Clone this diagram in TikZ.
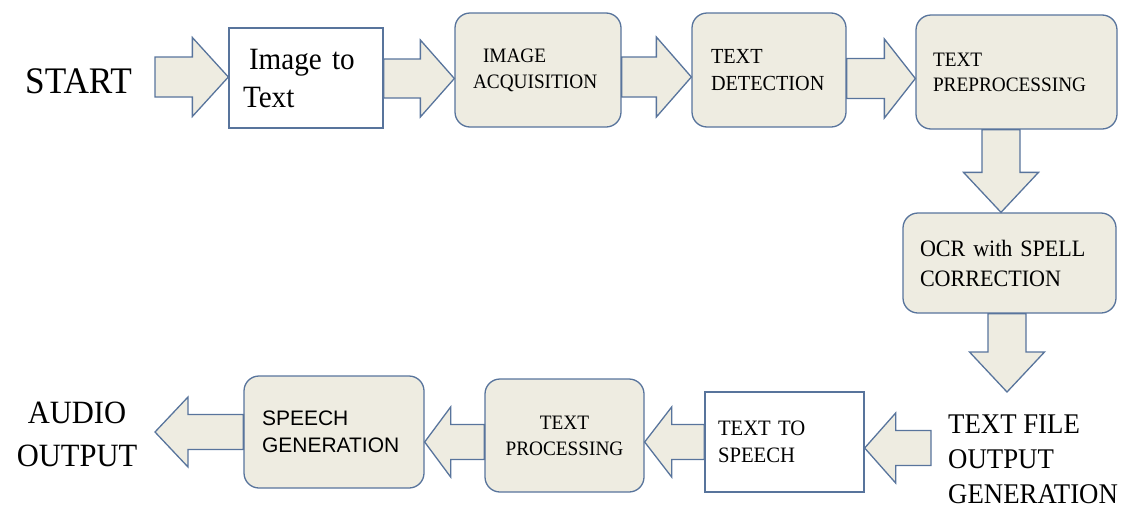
\documentclass[tikz,border=0pt]{standalone}
\usepackage{fontspec}
\setmainfont{Liberation Serif}[FakeStretch=0.94]
\newfontfamily\arialf{Liberation Sans}
\usetikzlibrary{calc}
\definecolor{boxfill}{HTML}{EEECE1}
\definecolor{boxline}{RGB}{88,116,156}
\tikzset{
  boxbase/.style={draw=boxline, line width=1.3pt, inner ysep=0pt, align=left, text=black},
  rbox/.style={boxbase, fill=boxfill, rounded corners=15pt},
  wbox/.style={boxbase, fill=white},
  barrow/.style={draw=boxline, line width=1.3pt, fill=boxfill, line join=miter},
  bigtext/.style={inner sep=0pt, text=black},
}
% right-pointing block arrow: tail, tip, y-centre, shaft half, head half, head length
\newcommand\rarr[6]{%
  \draw[barrow] let \p1=(#1), \p2=(#2) in
    (\x1,{#3-#4}) -- ({\x2-#6},{#3-#4}) -- ({\x2-#6},{#3-#5}) -- (\x2,#3)
    -- ({\x2-#6},{#3+#5}) -- ({\x2-#6},{#3+#4}) -- (\x1,{#3+#4}) -- cycle;}
% left-pointing block arrow
\newcommand\larr[6]{%
  \draw[barrow] let \p1=(#1), \p2=(#2) in
    (\x1,{#3-#4}) -- ({\x2+#6},{#3-#4}) -- ({\x2+#6},{#3-#5}) -- (\x2,#3)
    -- ({\x2+#6},{#3+#5}) -- ({\x2+#6},{#3+#4}) -- (\x1,{#3+#4}) -- cycle;}
% down-pointing block arrow: tail, tip, x-centre, shaft half, head half, head length
\newcommand\darr[6]{%
  \draw[barrow] let \p1=(#1), \p2=(#2) in
    ({#3-#4},\y1) -- ({#3-#4},{\y2+#6}) -- ({#3-#5},{\y2+#6}) -- (#3,\y2)
    -- ({#3+#5},{\y2+#6}) -- ({#3+#4},{\y2+#6}) -- ({#3+#4},\y1) -- cycle;}
\begin{document}
\begin{tikzpicture}[x=1pt, y=-1pt]
\useasboundingbox (0,0) rectangle (1129,509);

% free ends
\coordinate (s1) at (155,77);
\coordinate (d2) at (1008,392);
\coordinate (a5) at (931,448);
\coordinate (a8) at (155,432);

% texts
\node[bigtext, anchor=base west, font=\fontsize{37.5}{40}\selectfont] (start) at (25,93) {START};
\node[bigtext, anchor=west, align=left, font=\fontsize{28.5}{35}\selectfont] (tf) at (948,459) {TEXT FILE\\OUTPUT\\GENERATION};
\node[bigtext, align=center, font=\fontsize{32.5}{43}\selectfont] (audio) at (77,434.5) {AUDIO\\OUTPUT};

% boxes
\node[wbox, minimum height=100pt, text width=126pt, inner xsep=14pt,
      font=\fontsize{31}{38}\selectfont] (b1) at (306,78) {\hspace*{6pt}Image to\\Text};
\node[rbox, minimum height=114pt, text width=130pt, inner xsep=18pt,
      font=\fontsize{20.5}{26}\selectfont] (b2) at (538,70) {\hspace*{10pt}IMAGE\\ACQUISITION};
\node[rbox, minimum height=114pt, text width=116pt, inner xsep=19pt,
      font=\fontsize{21.5}{27}\selectfont] (b3) at (769,70) {TEXT\\DETECTION};
\node[rbox, minimum height=114pt, text width=167pt, inner xsep=17pt,
      font=\fontsize{20.5}{25}\selectfont] (b4) at (1016.5,72) {TEXT\\PREPROCESSING};
\node[rbox, minimum height=100pt, text width=179pt, inner xsep=17pt,
      font=\fontsize{23.5}{30}\selectfont] (b5) at (1009.5,263) {OCR with SPELL\\CORRECTION};
\node[wbox, minimum height=100pt, text width=133pt, inner xsep=13pt,
      font=\fontsize{22}{27}\selectfont] (b6) at (784.5,442) {TEXT TO\\SPEECH};
\node[rbox, minimum height=113pt, text width=139pt, inner xsep=10pt, align=center,
      font=\fontsize{20.5}{26}\selectfont] (b7) at (564.5,435.5) {TEXT\\PROCESSING};
\node[rbox, minimum height=112pt, text width=144pt, inner xsep=18pt,
      font=\arialf\fontsize{21}{27}\selectfont] (b8) at (334,432) {SPEECH\\GENERATION};

% block arrows
\rarr{s1}{b1.west}{77}{20}{39.5}{36}
\rarr{b1.east}{b2.west}{78.5}{19.5}{38.5}{34}
\rarr{b2.east}{b3.west}{77}{20}{40}{35}
\rarr{b3.east}{b4.west}{78.5}{20}{39.5}{31}
\darr{b4.south}{b5.north}{1001}{19}{37.5}{40}
\darr{b5.south}{d2}{1007}{19}{37.5}{40}
\larr{a5}{b6.east}{448}{17.5}{35}{31}
\larr{b6.west}{b7.east}{442}{17.5}{35}{27}
\larr{b7.west}{b8.east}{442}{17.5}{35}{26}
\larr{b8.west}{a8}{432}{17.5}{35}{33}
\end{tikzpicture}
\end{document}
